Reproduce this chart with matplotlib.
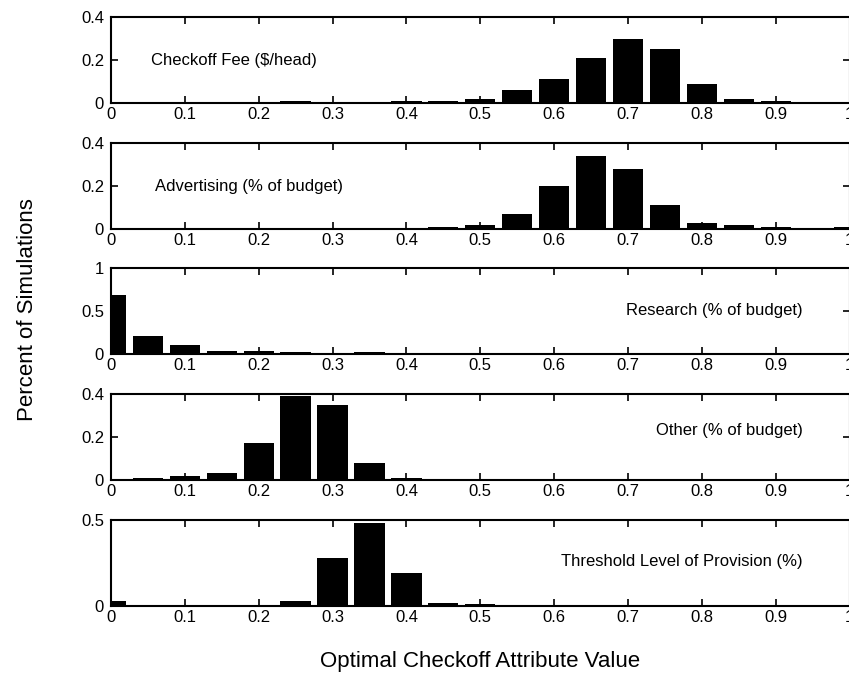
import matplotlib
matplotlib.use('Agg')
import matplotlib.pyplot as plt
import numpy as np

plt.rcParams['font.family'] = ['Liberation Sans', 'DejaVu Sans']

# bin centres shared by all panels
bins = [round(0.05 * i, 2) for i in range(21)]

checkoff_fee = [0, 0, 0, 0, 0, 0.008, 0, 0.005, 0.008, 0.01, 0.02,
                0.06, 0.11, 0.21, 0.30, 0.25, 0.09, 0.02, 0.01, 0.002, 0]
advertising = [0, 0, 0, 0, 0, 0, 0, 0, 0.002, 0.01, 0.02,
               0.07, 0.20, 0.34, 0.28, 0.11, 0.03, 0.02, 0.01, 0.003, 0.01]
research = [0.69, 0.21, 0.10, 0.04, 0.03, 0.02, 0.005, 0.02, 0.005, 0, 0,
            0, 0, 0, 0, 0, 0, 0, 0, 0, 0]
other = [0, 0.01, 0.02, 0.033, 0.17, 0.39, 0.35, 0.08, 0.01, 0, 0,
         0, 0, 0, 0, 0, 0, 0, 0, 0, 0]
threshold = [0.03, 0, 0, 0, 0, 0.03, 0.28, 0.48, 0.19, 0.02, 0.01,
             0, 0, 0, 0, 0, 0, 0, 0, 0, 0]

# (label, values, y ticks, y tick labels, y max, label side, label x, label y)
panels = [
    ('Checkoff Fee ($/head)', checkoff_fee, [0, 0.2, 0.4], ['0', '0.2', '0.4'], 0.4, 'left', 0.054, 0.50),
    ('Advertising (% of budget)', advertising, [0, 0.2, 0.4], ['0', '0.2', '0.4'], 0.4, 'left', 0.059, 0.50),
    ('Research (% of budget)', research, [0, 0.5, 1], ['0', '0.5', '1'], 1.0, 'right', 0.937, 0.51),
    ('Other (% of budget)', other, [0, 0.2, 0.4], ['0', '0.2', '0.4'], 0.4, 'right', 0.937, 0.57),
    ('Threshold Level of Provision (%)', threshold, [0, 0.5], ['0', '0.5'], 0.5, 'right', 0.937, 0.52),
]

xticks = [round(0.1 * i, 1) for i in range(11)]
xticklabels = ['0', '0.1', '0.2', '0.3', '0.4', '0.5', '0.6', '0.7', '0.8', '0.9', '1']

W, H = 849, 678
fig = plt.figure(figsize=(W / 100, H / 100), dpi=100)

left = 111 / W
width = (849.5 - 111) / W
tops = [17, 143, 268, 394, 520]
ph = 86

for (label, vals, yt, ytl, ymax, side, lx, ly), top in zip(panels, tops):
    ax = fig.add_axes([left, 1 - (top + ph) / H, width, ph / H])
    ax.bar(bins, vals, width=0.041, color='black', align='center')
    ax.set_xlim(0, 1)
    ax.set_ylim(0, ymax)
    ax.set_xticks(xticks)
    ax.set_xticklabels(xticklabels, fontsize=12)
    ax.set_yticks(yt)
    ax.set_yticklabels(ytl, fontsize=12)
    ax.tick_params(direction='in', top=True, right=True, length=5, width=1.2)
    ax.tick_params(axis='x', pad=3)
    ax.tick_params(axis='y', pad=5)
    for s in ax.spines.values():
        s.set_linewidth(1.5)
    ax.text(lx, ly, label, transform=ax.transAxes, ha=side, va='center', fontsize=12)

fig.text(28 / W, 1 - 310 / H, 'Percent of Simulations', rotation=90,
         ha='center', va='center', fontsize=16)
fig.text(480 / W, 1 - 662 / H, 'Optimal Checkoff Attribute Value',
         ha='center', va='center', fontsize=16)

fig.savefig('out.png', dpi=100)
